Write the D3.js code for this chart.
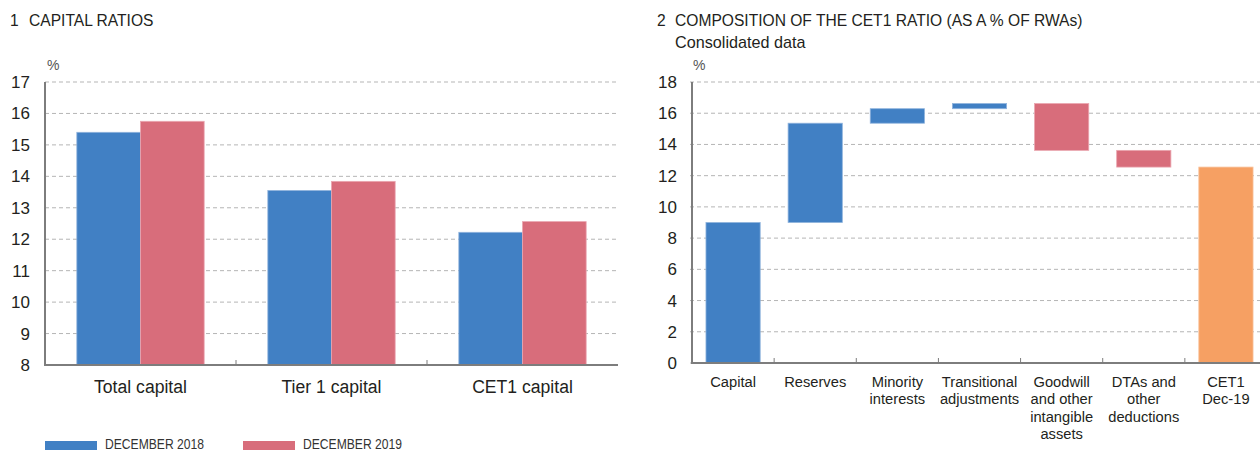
<!DOCTYPE html>
<html>
<head>
<meta charset="utf-8">
<script src="https://cdn.jsdelivr.net/npm/d3@7"></script>
<style>
  body { margin: 0; background: #fff; }
  svg { font-family: "Liberation Sans", Arial, sans-serif; }
</style>
</head>
<body>
<div id="chart"></div>
<script>
// chart 1: capital ratios
const capCategories = ["Total capital", "Tier 1 capital", "CET1 capital"];
const seriesNames = ["DECEMBER 2018", "DECEMBER 2019"];
const dec2018 = [15.40, 13.55, 12.22];
const dec2019 = [15.75, 13.84, 12.56];
const capTicks = [8, 9, 10, 11, 12, 13, 14, 15, 16, 17];

// chart 2: composition of the CET1 ratio (waterfall)
const cetCategories = ["Capital", "Reserves", "Minority\ninterests", "Transitional\nadjustments",
  "Goodwill\nand other\nintangible\nassets", "DTAs and\nother\ndeductions", "CET1\nDec-19"];
const cetChanges = [9.0, 6.36, 0.93, 0.33, -3.0, -1.07];
const cet1Total = 12.55;
const cetTicks = [0, 2, 4, 6, 8, 10, 12, 14, 16, 18];

const blue = "#4180c4", red = "#d86d7b", orange = "#f6a063";
const axisCol = "#7d7d7d", gridCol = "#b5b5b5", textCol = "#231f20";

var width = 1260, height = 453;
const svg = d3.select("#chart").append("svg")
  .attr("width", width).attr("height", height);

// ---------- left panel ----------
var top1 = 82, bottom1 = 365, left1 = 45, right1 = 618;
var y1 = d3.scaleLinear().domain([8, 17]).range([bottom1, top1]);
var x1 = d3.scaleBand().domain(capCategories).range([left1, right1]);
var xs1 = d3.scaleBand().domain(seriesNames).range([0, x1.bandwidth()]).paddingOuter(0.5);

svg.append("text").attr("x", 10).attr("y", 26).attr("font-size", 15.6).attr("fill", textCol)
  .text("1");
svg.append("text").attr("x", 29).attr("y", 26).attr("font-size", 15.6).attr("fill", textCol)
  .text("CAPITAL RATIOS");
svg.append("text").attr("x", 47).attr("y", 70).attr("font-size", 14).attr("fill", "#555")
  .text("%");

const g1 = svg.append("g");
g1.selectAll("line.grid").data(capTicks).enter().append("line")
  .attr("x1", left1).attr("x2", right1)
  .attr("y1", d => y1(d)).attr("y2", d => y1(d))
  .attr("stroke", gridCol).attr("stroke-dasharray", "4,3");
g1.selectAll("text.tick").data(capTicks).enter().append("text")
  .attr("x", 30).attr("y", d => y1(d) + 6)
  .attr("text-anchor", "end").attr("font-size", 17).attr("fill", textCol)
  .text(d => d);

const rows = capCategories.map((c, i) => ({ cat: c, vals: [dec2018[i], dec2019[i]] }));
rows.forEach(r => {
  r.vals.forEach((v, j) => {
    g1.append("rect")
      .attr("x", x1(r.cat) + xs1(seriesNames[j]))
      .attr("y", y1(v))
      .attr("width", xs1.bandwidth())
      .attr("height", y1(8) - y1(v))
      .attr("fill", j == 0 ? blue : red)
      .attr("stroke", j == 0 ? "#8fb3dd" : "#eaa6b0").attr("stroke-width", 0.8);
  });
});

// axes
g1.append("line").attr("x1", left1).attr("x2", left1).attr("y1", top1).attr("y2", bottom1)
  .attr("stroke", axisCol).attr("stroke-width", 2);
g1.append("line").attr("x1", left1 - 1).attr("x2", right1).attr("y1", bottom1).attr("y2", bottom1)
  .attr("stroke", axisCol).attr("stroke-width", 2);
capCategories.slice(1).forEach(c => {
  g1.append("line").attr("x1", x1(c)).attr("x2", x1(c)).attr("y1", bottom1 - 5).attr("y2", bottom1)
    .attr("stroke", axisCol).attr("stroke-width", 1);
});
g1.selectAll("text.cat").data(capCategories).enter().append("text")
  .attr("x", d => x1(d) + x1.bandwidth() / 2).attr("y", 393)
  .attr("text-anchor", "middle").attr("font-size", 17.6).attr("fill", textCol)
  .text(d => d);

// legend (condensed text)
const legX = [45, 243];
seriesNames.forEach((s, i) => {
  svg.append("rect").attr("x", legX[i]).attr("y", 441).attr("width", 52).attr("height", 9)
    .attr("fill", i == 0 ? blue : red);
  svg.append("text").attr("x", legX[i] + 60).attr("y", 449)
    .attr("font-size", 15).attr("fill", "#333")
    .attr("textLength", 99).attr("lengthAdjust", "spacingAndGlyphs")
    .text(s);
});

// ---------- right panel ----------
var top2 = 82, bottom2 = 363, left2 = 692, right2 = 1267;
var y2 = d3.scaleLinear().domain([0, 18]).range([bottom2, top2]);
var x2 = d3.scaleBand().domain(cetCategories).range([left2, right2])
  .paddingInner(0.34).paddingOuter(0.17);

svg.append("text").attr("x", 657).attr("y", 26).attr("font-size", 15.6).attr("fill", textCol)
  .text("2");
svg.append("text").attr("x", 675).attr("y", 26).attr("font-size", 15.6).attr("fill", textCol)
  .text("COMPOSITION OF THE CET1 RATIO (AS A % OF RWAs)");
svg.append("text").attr("x", 675).attr("y", 48).attr("font-size", 16.2).attr("fill", textCol)
  .text("Consolidated data");
svg.append("text").attr("x", 693).attr("y", 70).attr("font-size", 14).attr("fill", "#555")
  .text("%");

const g2 = svg.append("g");
g2.selectAll("line.grid").data(cetTicks).enter().append("line")
  .attr("x1", left2 - 2).attr("x2", width)
  .attr("y1", d => y2(d)).attr("y2", d => y2(d))
  .attr("stroke", gridCol).attr("stroke-dasharray", "4,3");
g2.selectAll("text.tick").data(cetTicks).enter().append("text")
  .attr("x", 677).attr("y", d => y2(d) + 6)
  .attr("text-anchor", "end").attr("font-size", 17).attr("fill", textCol)
  .text(d => d);

// waterfall steps
var running = 0;
const steps = cetChanges.map((v, i) => {
  const s = { cat: cetCategories[i], from: running, to: running + v, up: v >= 0 };
  running += v;
  return s;
});
steps.push({ cat: cetCategories[6], from: 0, to: cet1Total, total: true });

g2.selectAll("rect.step").data(steps).enter().append("rect")
  .attr("x", d => x2(d.cat))
  .attr("y", d => y2(Math.max(d.from, d.to)))
  .attr("width", x2.bandwidth())
  .attr("height", d => Math.abs(y2(d.from) - y2(d.to)))
  .attr("fill", d => d.total ? orange : (d.up ? blue : red))
  .attr("stroke", d => d.total ? "#f9c29a" : (d.up ? "#8fb3dd" : "#eaa6b0"))
  .attr("stroke-width", 0.8);

g2.append("line").attr("x1", left2).attr("x2", left2).attr("y1", top2).attr("y2", bottom2)
  .attr("stroke", axisCol).attr("stroke-width", 2);
g2.append("line").attr("x1", left2 - 1).attr("x2", width).attr("y1", bottom2).attr("y2", bottom2)
  .attr("stroke", axisCol).attr("stroke-width", 2);
cetCategories.slice(1).forEach(c => {
  var tx = x2(c) - x2.step() * x2.paddingInner() / 2;
  g2.append("line").attr("x1", tx).attr("x2", tx).attr("y1", bottom2 - 5).attr("y2", bottom2)
    .attr("stroke", axisCol).attr("stroke-width", 1);
});

cetCategories.forEach(c => {
  const t = g2.append("text")
    .attr("x", x2(c) + x2.bandwidth() / 2).attr("y", 387)
    .attr("text-anchor", "middle").attr("font-size", 14.7).attr("fill", textCol);
  c.split("\n").forEach((line, k) => {
    t.append("tspan").attr("x", x2(c) + x2.bandwidth() / 2).attr("dy", k == 0 ? 0 : 17.4)
      .text(line);
  });
});
</script>
</body>
</html>
